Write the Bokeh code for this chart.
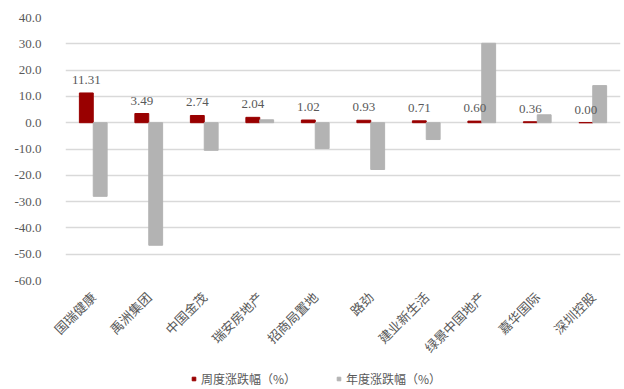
import math
from bokeh.plotting import figure
from bokeh.layouts import column
from bokeh.models import (ColumnDataSource, FactorRange, Range1d, FixedTicker,
                          NumeralTickFormatter, LabelSet, Legend, LegendItem)
from bokeh.transform import dodge
from bokeh.embed import file_html
from bokeh.resources import INLINE

categories = ["国瑞健康", "禹洲集团", "中国金茂", "瑞安房地产", "招商局置地",
              "路劲", "建业新生活", "绿景中国地产", "嘉华国际", "深圳控股"]
weekly = [11.31, 3.49, 2.74, 2.04, 1.02, 0.93, 0.71, 0.60, 0.36, 0.00]
yearly = [-28.0, -46.6, -10.5, 1.1, -9.8, -17.8, -6.4, 30.2, 3.0, 14.1]
weekly_labels = ["%.2f" % v for v in weekly]
y_ticks = [-60, -50, -40, -30, -20, -10, 0, 10, 20, 30, 40]
series_names = ["周度涨跌幅（%）", "年度涨跌幅（%）"]

RED = "#990000"
GRAY = "#b3b3b3"
TEXT = "#595959"
CJK = "Noto Sans CJK SC"
NUM = "Liberation Serif"

src = ColumnDataSource(dict(cat=categories, weekly=weekly, yearly=yearly,
                            lab=weekly_labels))

p = figure(width=624, height=366, x_range=FactorRange(factors=categories, range_padding=0),
           y_range=Range1d(-60, 40), output_backend="svg", toolbar_location=None,
           min_border_left=65, min_border_right=4, min_border_top=17,
           min_border_bottom=85, outline_line_color=None)
p.background_fill_color = "white"
p.border_fill_color = "white"

r1 = p.vbar(x=dodge("cat", -0.125, range=p.x_range), top="weekly", width=0.25,
            source=src, color=RED)
r2 = p.vbar(x=dodge("cat", 0.125, range=p.x_range), top="yearly", width=0.25,
            source=src, color=GRAY)

labels = LabelSet(x=dodge("cat", -0.125, range=p.x_range), y="weekly", text="lab",
                  source=src, text_align="center", text_baseline="bottom",
                  y_offset=9, text_font=NUM, text_font_size="13px",
                  text_color=TEXT)
p.add_layout(labels)

p.yaxis.ticker = FixedTicker(ticks=y_ticks)
p.yaxis.formatter = NumeralTickFormatter(format="0.0")
p.yaxis.axis_line_color = None
p.yaxis.major_tick_line_color = None
p.yaxis.minor_tick_line_color = None
p.yaxis.major_label_text_font = NUM
p.yaxis.major_label_text_font_size = "13px"
p.yaxis.major_label_text_color = TEXT
p.yaxis.major_label_standoff = 18

p.xaxis.axis_line_color = None
p.xaxis.major_tick_line_color = None
p.xaxis.major_label_orientation = math.pi / 4
p.xaxis.major_label_text_font = CJK
p.xaxis.major_label_text_font_size = "13px"
p.xaxis.major_label_text_color = TEXT
p.xaxis.major_label_standoff = 8

p.xgrid.grid_line_color = None
p.ygrid.grid_line_color = "#d9d9d9"
p.ygrid.grid_line_width = 1.5

# legend figure
lf = figure(width=624, height=23, output_backend="svg", toolbar_location=None,
            x_range=Range1d(0, 1), y_range=Range1d(0, 1),
            min_border=0, outline_line_color=None)
lf.axis.visible = False
lf.grid.visible = False
lr1 = lf.scatter([-5], [-5], marker="square", color=RED, size=8)
lr2 = lf.scatter([-5], [-5], marker="square", color=GRAY, size=8)
legend = Legend(items=[LegendItem(label=series_names[0], renderers=[lr1]),
                       LegendItem(label=series_names[1], renderers=[lr2])],
                orientation="horizontal", location=(124, 2),
                label_text_font=CJK, label_text_font_size="12px",
                label_text_color=TEXT, glyph_width=9, glyph_height=9,
                spacing=38, border_line_color=None, background_fill_alpha=0,
                padding=0, margin=0, label_standoff=3, label_height=14)
lf.add_layout(legend)

layout = column(p, lf, spacing=0)
open("out.html", "w").write(file_html(layout, INLINE))
